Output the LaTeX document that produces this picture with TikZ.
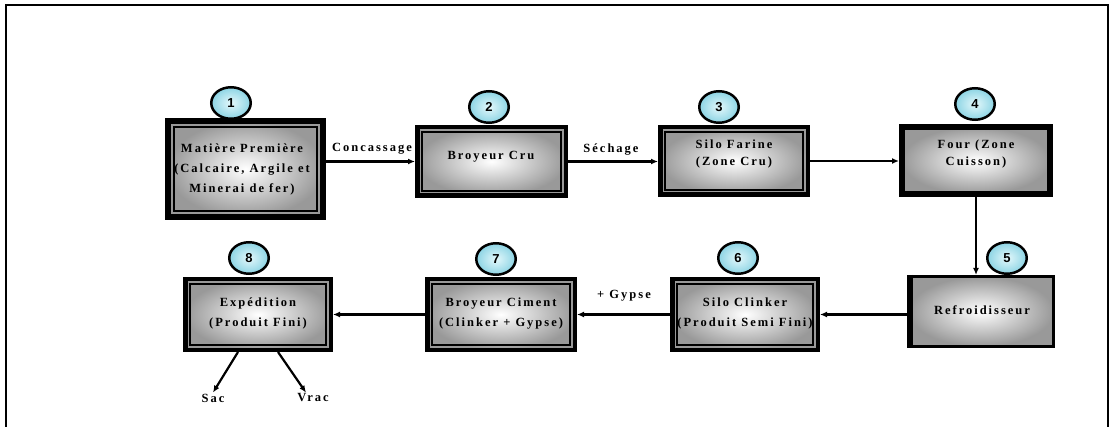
\documentclass[tikz,border=0pt]{standalone}
\usepackage{fontspec}
\setmainfont{Liberation Serif}
\newfontfamily\lbl[LetterSpace=16]{Liberation Serif}
\newfontfamily\numfont{Liberation Sans}
\usetikzlibrary{arrows.meta,shapes.geometric}
\definecolor{cin}{RGB}{228,248,251}
\definecolor{cout}{RGB}{140,212,228}
\newcommand\innerline[2]{\draw[line width=1.2pt] ([shift={(#2,#2)}]#1.north west) rectangle ([shift={(-#2,-#2)}]#1.south east);}
\tikzset{
 box/.style={draw=black, line width=4.5pt, shading=radial, inner color=white, outer color=black!40, inner sep=0pt},
 txt/.style={align=center, inner sep=0pt, font=\lbl\bfseries\fontsize{12.5}{20}\selectfont},
 txtb/.style={align=center, inner sep=0pt, font=\lbl\bfseries\fontsize{12.5}{17}\selectfont},
 num/.style={ellipse, draw=black, line width=2.5pt, inner color=cin, outer color=cout, minimum width=39.5pt, minimum height=31.5pt, inner sep=0pt, font=\numfont\bfseries\fontsize{13}{13}\selectfont},
 flow/.style={line width=2.2pt, -{Latex[length=7pt,width=6pt]}},
 tag/.style={font=\lbl\bfseries\fontsize{12.5}{14}\selectfont, inner sep=1pt},
 frame/.style={line width=2pt}
}
\begin{document}
\begin{tikzpicture}[x=1pt,y=-1pt]
\useasboundingbox (0,0) rectangle (1110,427);
\draw[frame] (6,427) -- (6,5) -- (1108,5) -- (1108,427);

% boxes
\node[box, line width=6pt, minimum width=155pt, minimum height=96pt] (b1) at (245.5,169) {};
\innerline{b1}{9}
\node[txt] (t1) at (242,169) {Matière Première\\(Calcaire, Argile et\\Minerai de fer)};

\node[box, minimum width=148.5pt, minimum height=68.5pt] (b2) at (491.5,161.5) {};
\innerline{b2}{7}
\node[txtb] (t2) at (491,157) {Broyeur Cru};

\node[box, minimum width=147.5pt, minimum height=67.5pt] (b3) at (734,161) {};
\innerline{b3}{7}
\node[txtb] (t3) at (734,154) {Silo Farine\\(Zone Cru)};

\node[box, line width=6pt, minimum width=148pt, minimum height=67pt] (b4) at (976,160.5) {};
\node[txtb] (t4) at (976,154) {Four (Zone\\Cuisson)};

\node[box, line width=3.5pt, minimum width=144.5pt, minimum height=69.5pt] (b5) at (981,311.5) {};
\draw[line width=6pt] ([xshift=3pt]b5.north west) -- ([xshift=3pt]b5.south west);
\node[txt] (t5) at (982,310) {Refroidisseur};

\node[box, minimum width=145.5pt, minimum height=70.5pt] (b6) at (745,314.5) {};
\innerline{b6}{7}
\node[txt] (t6) at (745,313) {Silo Clinker\\(Produit Semi Fini)};

\node[box, minimum width=147.5pt, minimum height=70.5pt] (b7) at (501,314.5) {};
\innerline{b7}{7}
\node[txt] (t7) at (501,314) {Broyeur Ciment\\(Clinker + Gypse)};

\node[box, minimum width=145.5pt, minimum height=70.5pt] (b8) at (258,314.5) {};
\innerline{b8}{7}
\node[txt] (t8) at (258,313) {Expédition\\(Produit Fini)};

% numbers
\node[num] (c1) at (231,103) {1};
\node[num] (c2) at (489,107) {2};
\node[num] (c3) at (719,107) {3};
\node[num] (c4) at (975,104) {4};
\node[num] (c5) at (1007,258) {5};
\node[num] (c6) at (738,258) {6};
\node[num] (c7) at (496,259) {7};
\node[num] (c8) at (249,258) {8};

% connectors
\draw[flow] (b1.east |- b2.west) -- (b2.west);
\draw[flow] (b2.east) -- (b3.west |- b2.east);
\draw[flow] (b3.east) -- (b4.west |- b3.east);
\draw[flow] (b4.south) -- (b4.south |- b5.north);
\draw[flow] (b5.west |- b6.east) -- (b6.east);
\draw[flow] (b6.west) -- (b7.east);
\draw[flow] (b7.west) -- (b8.east);

\node[tag] (l1) at (372,149) {Concassage};
\node[tag] (l2) at (611,150) {Séchage};
\node[tag] (l3) at (624,296) {+ Gypse};

\node[tag] (sac) at (213,398) {Sac};
\node[tag] (vrac) at (313,398) {Vrac};
\draw[flow] ([xshift=-20pt]b8.south) -- (sac.north);
\draw[flow] ([xshift=20pt]b8.south) -- ([xshift=-7pt]vrac.north);
\end{tikzpicture}
\end{document}
